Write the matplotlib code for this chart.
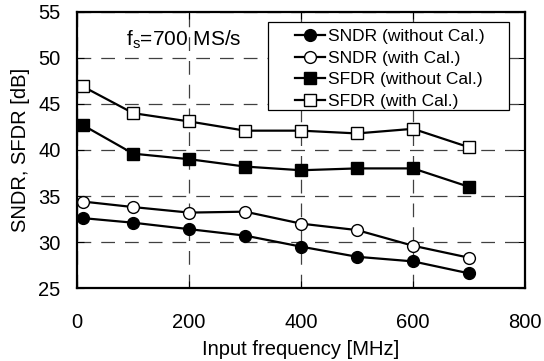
import matplotlib.pyplot as plt
import matplotlib.patches as patches
import numpy as np

plt.rcParams['font.family'] = ['Liberation Sans', 'DejaVu Sans']

# 입력 주파수 (MHz)
freq = [10, 100, 200, 300, 400, 500, 600, 700]

# 측정값 (dB)
sndr_wo = [32.6, 32.1, 31.4, 30.7, 29.5, 28.4, 27.9, 26.6]
sndr_w = [34.4, 33.8, 33.2, 33.3, 32.0, 31.3, 29.6, 28.3]
sfdr_wo = [42.7, 39.6, 39.0, 38.2, 37.8, 38.0, 38.0, 36.0]
sfdr_w = [46.9, 44.0, 43.1, 42.1, 42.1, 41.8, 42.3, 40.3]

fig, ax = plt.subplots(figsize=(5.44, 3.61), dpi=100)
fig.subplots_adjust(left=0.142, right=0.965, top=0.967, bottom=0.202)

kw = dict(color='black', lw=1.6, mec='black', mew=1.0)
ax.plot(freq, sndr_wo, marker='o', ms=8.5, mfc='black', label='SNDR (without Cal.)', **kw)
ax.plot(freq, sndr_w, marker='o', ms=8.5, mfc='white', label='SNDR (with Cal.)', **kw)
ax.plot(freq, sfdr_wo, marker='s', ms=8.5, mfc='black', label='SFDR (without Cal.)', **kw)
ax.plot(freq, sfdr_w, marker='s', ms=8.5, mfc='white', label='SFDR (with Cal.)', **kw)

ax.set_xlim(0, 800)
ax.set_ylim(25, 55)
ax.set_xticks(np.arange(0, 801, 200))
ax.set_yticks(np.arange(25, 56, 5))
ax.grid(True, color='black', ls=(0, (11, 8)), lw=0.9, alpha=0.75)
ax.tick_params(direction='in', top=True, right=True, labelsize=14.5, length=5)
ax.tick_params(axis='x', pad=18)
ax.tick_params(axis='y', pad=12)
for s in ax.spines.values():
    s.set_linewidth(1.6)

ax.set_xlabel('Input frequency [MHz]', fontsize=14.5, labelpad=6)
ax.set_ylabel('SNDR, SFDR [dB]', fontsize=14.5, labelpad=6)
ax.text(0.11, 0.9, r'f$_\mathregular{s}$=700 MS/s', transform=ax.transAxes,
        fontsize=15, va='center')

# 범례 상자 (왼쪽 여백이 넓음)
box = patches.Rectangle((0.426, 0.645), 0.538, 0.319, transform=ax.transAxes,
                        facecolor='white', edgecolor='black', lw=0.9, zorder=4)
ax.add_patch(box)
leg = ax.legend(loc='upper right', bbox_to_anchor=(0.922, 0.957), fontsize=12.5,
                frameon=False, handlelength=1.7, handletextpad=0.2,
                labelspacing=0.37, borderpad=0.3, borderaxespad=0)
leg.set_zorder(5)

plt.savefig('out.png')
